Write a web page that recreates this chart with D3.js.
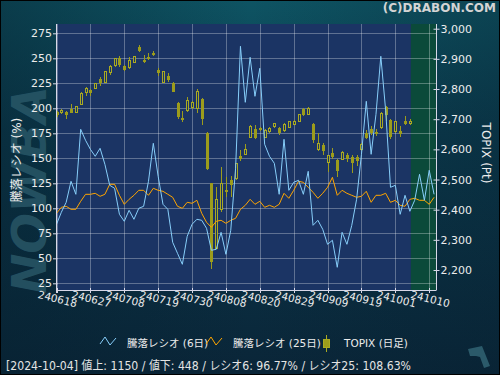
<!DOCTYPE html>
<html>
<head>
<meta charset="utf-8">
<script src="https://cdn.jsdelivr.net/npm/d3@7"></script>
<style>
body { margin: 0; background: #0a2a3c; }
svg { display: block; }
</style>
</head>
<body>
<div id="chart"></div>
<script>
// tick labels (every 7 trading days)
var dateLabels = ["240618","240627","240708","240719","240730","240808","240820","240829","240909","240919","241001","241010"];
var leftTicks = [25, 50, 75, 100, 125, 150, 175, 200, 225, 250, 275];
var rightTicks = [2200, 2300, 2400, 2500, 2600, 2700, 2800, 2900, 3000];

// 騰落レシオ (6日)
var ratio6 = [84,96,106,127,114,179,168,159,152,160,144,123,120,94,87,98,89,100,102,127,
  165,132,104,99,66,55,44,72,84,89,88,80,58,59,76,54,78,140,262,206,
  251,212,240,164,152,145,114,169,118,126,128,114,137,83,88,79,64,68,41,76,
  64,83,109,154,207,154,194,252,198,121,123,94,113,97,108,134,108,138,114];

// 騰落レシオ (25日)
var ratio25 = [95,101,102,99,99,107,114,114,115,112,114,124,124,113,104,109,113,118,118,113,
  120,118,117,114,111,102,100,106,105,108,95,86,81,87,88,85,88,90,99,103,
  109,104,107,101,103,101,104,115,110,118,127,126,121,116,110,115,121,131,113,118,
  115,113,111,112,117,106,113,113,115,106,108,103,102,109,110,108,108,104,111];

// TOPIX (日足)
var topixOpen  = [2723,2721,2724,2734,2721,2750,2789,2797,2802,2833,2822,2856,2877,2902,2877,2870,2889,2940,2897,2906,
  2920,2864,2822,2844,2819,2755,2704,2728,2739,2734,2767,2654,2488,2270,2400,2466,2498,2505,2579,2582,
  2640,2667,2670,2640,2659,2675,2670,2662,2673,2683,2693,2733,2717,2684,2599,2615,2555,2587,2565,2567,
  2582,2574,2574,2599,2653,2668,2657,2671,2739,2697,2659,2661,2695,2685];
var topixHigh  = [2726,2734,2728,2749,2745,2789,2808,2800,2821,2839,2861,2880,2903,2909,2881,2905,2911,2946,2913,2919,
  2927,2871,2861,2852,2822,2756,2726,2773,2761,2800,2770,2659,2488,2474,2541,2507,2512,2555,2598,2618,
  2681,2681,2673,2668,2675,2688,2673,2686,2693,2697,2717,2736,2740,2687,2654,2621,2582,2604,2568,2596,
  2587,2582,2582,2621,2664,2677,2668,2723,2743,2701,2695,2677,2710,2701];
var topixLow   = [2706,2717,2701,2721,2720,2747,2778,2777,2799,2811,2819,2848,2874,2872,2861,2866,2886,2922,2887,2896,
  2908,2844,2819,2822,2789,2701,2691,2723,2734,2720,2682,2532,2203,2268,2391,2441,2443,2500,2562,2580,
  2637,2634,2661,2638,2655,2672,2649,2658,2670,2680,2690,2712,2715,2622,2596,2582,2524,2568,2507,2565,
  2559,2521,2544,2596,2634,2648,2645,2668,2695,2634,2655,2640,2681,2682];
var topixClose = [2715,2730,2714,2722,2741,2786,2803,2788,2817,2819,2858,2874,2900,2881,2864,2896,2909,2927,2891,2900,
  2913,2853,2857,2830,2791,2708,2697,2761,2754,2793,2701,2535,2226,2435,2487,2458,2483,2554,2568,2601,
  2676,2637,2664,2664,2670,2685,2653,2682,2691,2694,2714,2715,2736,2632,2621,2596,2579,2576,2529,2591,
  2569,2554,2562,2615,2639,2654,2651,2720,2715,2642,2691,2650,2683,2694];

var w = 500, h = 375;
var plotL = 56.5, plotR = 436, plotT = 24, plotB = 290;

var colBlue = "#87cefa", colOrange = "#ffa500";
var colCandle = "#9c9c1c", colCandleEdge = "#aaaa22";
var colPlot = "#1b3464";
var font = "'DejaVu Sans', 'Noto Sans CJK JP', sans-serif";

var xScale = d3.scaleLinear().domain([0, 78.4]).range([plotL, plotR]);
var yLeft = d3.scaleLinear().domain([18.3, 284.3]).range([plotB, plotT]);
var yRight = d3.scaleLinear().domain([2133.7, 3015.6]).range([plotB, plotT]);

var svg = d3.select("#chart").append("svg")
  .attr("width", w)
  .attr("height", h);

var defs = svg.append("defs");
var bg = defs.append("linearGradient").attr("id", "bg")
  .attr("x1", 0).attr("y1", 0).attr("x2", 0).attr("y2", 1);
bg.append("stop").attr("offset", "0%").attr("stop-color", "#0e5463");
bg.append("stop").attr("offset", "35%").attr("stop-color", "#0b3a4d");
bg.append("stop").attr("offset", "100%").attr("stop-color", "#0a2538");
var bgh = defs.append("linearGradient").attr("id", "bgh")
  .attr("x1", 0).attr("y1", 0).attr("x2", 1).attr("y2", 0);
bgh.append("stop").attr("offset", "0%").attr("stop-color", "#06202e").attr("stop-opacity", 0.45);
bgh.append("stop").attr("offset", "50%").attr("stop-color", "#06202e").attr("stop-opacity", 0);
bgh.append("stop").attr("offset", "100%").attr("stop-color", "#06202e").attr("stop-opacity", 0.3);

svg.append("rect").attr("width", w).attr("height", h).attr("fill", "url(#bg)");
svg.append("rect").attr("width", w).attr("height", h).attr("fill", "url(#bgh)");

// watermark on the left
svg.append("text")
  .attr("transform", "translate(46,190) rotate(-90)")
  .attr("text-anchor", "middle")
  .attr("font-family", font)
  .attr("font-weight", "bold")
  .attr("font-style", "italic")
  .attr("font-size", "48px")
  .attr("fill", "#2b5a6a")
  .attr("fill-opacity", 0.8)
  .text("NOWBA");

// plot background
svg.append("rect")
  .attr("x", plotL).attr("y", plotT)
  .attr("width", plotR - plotL).attr("height", plotB - plotT)
  .attr("fill", colPlot);

// future area (green)
var lastIdx = topixClose.length - 1;
svg.append("rect")
  .attr("x", xScale(lastIdx) + 1)
  .attr("y", plotT)
  .attr("width", plotR - xScale(lastIdx) - 1)
  .attr("height", plotB - plotT)
  .attr("fill", "#0b4a3a");

// grid
var grid = svg.append("g").attr("stroke", "#ffffff").attr("stroke-opacity", 0.3)
  .attr("shape-rendering", "crispEdges");
grid.selectAll(".hg").data(leftTicks).enter().append("line")
  .attr("x1", plotL).attr("x2", plotR)
  .attr("y1", function(d) { return Math.round(yLeft(d)) + 0.5; })
  .attr("y2", function(d) { return Math.round(yLeft(d)) + 0.5; });
grid.selectAll(".vg").data(dateLabels).enter().append("line")
  .attr("x1", function(d, i) { return Math.round(xScale(i * 7)) + 0.5; })
  .attr("x2", function(d, i) { return Math.round(xScale(i * 7)) + 0.5; })
  .attr("y1", plotT).attr("y2", plotB);

// candles
var candles = svg.append("g").attr("shape-rendering", "crispEdges");
var cIdx = d3.range(topixClose.length);
candles.selectAll(".wick").data(cIdx).enter().append("line")
  .attr("x1", function(i) { return Math.round(xScale(i)) + 0.5; })
  .attr("x2", function(i) { return Math.round(xScale(i)) + 0.5; })
  .attr("y1", function(i) { return yRight(topixHigh[i]); })
  .attr("y2", function(i) { return yRight(topixLow[i]); })
  .attr("stroke", colCandle);
candles.selectAll(".body").data(cIdx).enter().append("rect")
  .attr("x", function(i) { return topixClose[i] >= topixOpen[i] ? Math.round(xScale(i)) - 0.5 : Math.round(xScale(i)) - 1; })
  .attr("width", function(i) { return topixClose[i] >= topixOpen[i] ? 2 : 3; })
  .attr("y", function(i) { return yRight(Math.max(topixOpen[i], topixClose[i])); })
  .attr("height", function(i) { return Math.max(1, Math.abs(yRight(topixOpen[i]) - yRight(topixClose[i]))); })
  .attr("fill", function(i) { return topixClose[i] >= topixOpen[i] ? colPlot : colCandle; })
  .attr("stroke", function(i) { return topixClose[i] >= topixOpen[i] ? colCandleEdge : "none"; });

// ratio lines
var line6 = d3.line()
  .x(function(d, i) { return xScale(i); })
  .y(function(d) { return yLeft(d); });
svg.append("path").datum(ratio25)
  .attr("d", line6)
  .attr("fill", "none")
  .attr("stroke", colOrange)
  .attr("stroke-width", 1);
svg.append("path").datum(ratio6)
  .attr("d", line6)
  .attr("fill", "none")
  .attr("stroke", colBlue)
  .attr("stroke-width", 1);

// left axis
var axisCol = "#d8d8e8";
var yAxisL = d3.axisLeft(yLeft).tickValues(leftTicks).tickSize(3).tickPadding(1);
var gL = svg.append("g").attr("transform", "translate(" + (plotL - 0.5) + ",0)").call(yAxisL);
gL.select(".domain").remove();
gL.append("line").attr("x1", 0.5).attr("x2", 0.5).attr("y1", plotT).attr("y2", plotB + 3)
  .attr("stroke", axisCol);
gL.selectAll(".tick line").attr("stroke", axisCol).attr("x1", 1.5);
gL.selectAll(".tick text").attr("fill", "#ececec").attr("font-family", font).attr("font-size", "11px");

// right axis
var yAxisR = d3.axisRight(yRight).tickValues(rightTicks).tickSize(3).tickPadding(1)
  .tickFormat(d3.format(","));
var gR = svg.append("g").attr("transform", "translate(" + (plotR + 0.5) + ",0)").call(yAxisR);
gR.select(".domain").remove();
gR.append("line").attr("x1", 0).attr("x2", 0).attr("y1", plotT).attr("y2", plotB)
  .attr("stroke", axisCol);
gR.selectAll(".tick line").attr("stroke", axisCol).attr("x1", -3);
gR.selectAll(".tick text").attr("fill", "#ececec").attr("font-family", font).attr("font-size", "11px");

// bottom axis
var gB = svg.append("g");
gB.append("line").attr("x1", plotL - 0.5).attr("x2", plotR + 0.5)
  .attr("y1", plotB + 0.5).attr("y2", plotB + 0.5).attr("stroke", axisCol);
gB.selectAll(".xt").data(dateLabels).enter().append("line")
  .attr("x1", function(d, i) { return Math.round(xScale(i * 7)) + 0.5; })
  .attr("x2", function(d, i) { return Math.round(xScale(i * 7)) + 0.5; })
  .attr("y1", plotB - 2).attr("y2", plotB + 3)
  .attr("stroke", axisCol);
gB.selectAll(".xl").data(dateLabels).enter().append("text")
  .attr("transform", function(d, i) { return "translate(" + (xScale(i * 7) + 1) + "," + (plotB + 9) + ") rotate(14)"; })
  .attr("text-anchor", "middle")
  .attr("dy", "0.35em")
  .attr("fill", "#ececec")
  .attr("font-family", font)
  .attr("font-size", "10.5px")
  .text(function(d) { return d; });

// axis titles
svg.append("text")
  .attr("transform", "translate(17,160) rotate(-90)")
  .attr("text-anchor", "middle")
  .attr("dy", "0.35em")
  .attr("fill", "#ececec")
  .attr("font-family", font)
  .attr("font-size", "12px")
  .text("騰落レシオ (%)");
svg.append("text")
  .attr("transform", "translate(486,153) rotate(90)")
  .attr("text-anchor", "middle")
  .attr("dy", "0.35em")
  .attr("fill", "#ececec")
  .attr("font-family", font)
  .attr("font-size", "12px")
  .text("TOPIX (Pt)");

// copyright
svg.append("text")
  .attr("x", 496).attr("y", 12)
  .attr("text-anchor", "end")
  .attr("fill", "#d4d4d4")
  .attr("font-family", font)
  .attr("font-weight", "bold")
  .attr("font-size", "12px")
  .text("(C)DRABON.COM");

// legend
var legend = svg.append("g").attr("font-family", font).attr("font-size", "10.5px").attr("fill", "#ececec");
legend.append("path").attr("d", "M100,344L105,337L110,345L116,338")
  .attr("fill", "none").attr("stroke", colBlue);
legend.append("text").attr("x", 127).attr("y", 343).attr("dy", "0.35em").text("騰落レシオ (6日)");
legend.append("path").attr("d", "M206,344L211,337L216,345L222,338")
  .attr("fill", "none").attr("stroke", colOrange);
legend.append("text").attr("x", 233).attr("y", 343).attr("dy", "0.35em").text("騰落レシオ (25日)");
legend.append("line").attr("x1", 326.5).attr("x2", 326.5).attr("y1", 335).attr("y2", 352)
  .attr("stroke", colCandleEdge);
legend.append("rect").attr("x", 323.5).attr("y", 339.5).attr("width", 6).attr("height", 8)
  .attr("fill", colCandle).attr("stroke", colCandleEdge);
legend.append("text").attr("x", 344).attr("y", 343).attr("dy", "0.35em").text("TOPIX (日足)");

// status line
svg.append("text")
  .attr("x", 6).attr("y", 366)
  .attr("dy", "0.35em")
  .attr("fill", "#e4e4e4")
  .attr("font-family", font)
  .attr("font-size", "12px")
  .attr("textLength", 405)
  .attr("lengthAdjust", "spacingAndGlyphs")
  .text("[2024-10-04]  値上: 1150 / 値下: 448 / レシオ6: 96.77% / レシオ25: 108.63%");

// faint logo bottom right
svg.append("path")
  .attr("d", "M468,349L482,346L486,356L490,366L484,368L480,357L476,356L470,356Z")
  .attr("fill", "#2b5a6a");

// frame
svg.append("rect").attr("x", 0.5).attr("y", 0.5).attr("width", w - 1).attr("height", h - 1)
  .attr("fill", "none").attr("stroke", "#000");
</script>
</body>
</html>
